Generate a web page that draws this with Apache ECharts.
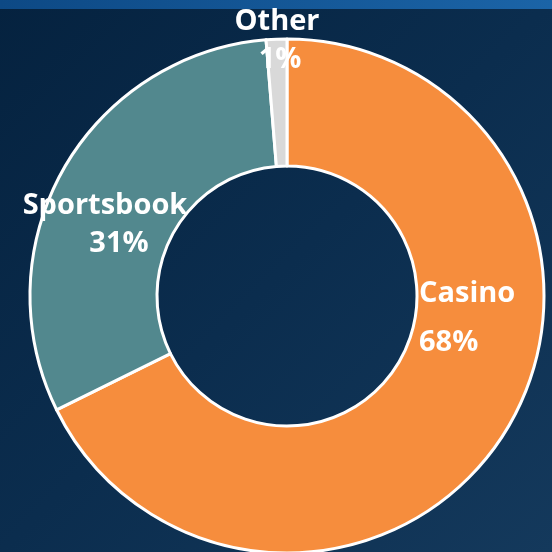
<!DOCTYPE html>
<html><head><meta charset="utf-8">
<script src="https://cdn.jsdelivr.net/npm/echarts@6/dist/echarts.min.js"></script>
<style>html,body{margin:0;padding:0;background:#0a2a4a}#c{width:552px;height:552px}</style>
</head><body><div id="c"></div>
<script>
const categories = ['Casino', 'Sportsbook', 'Other'];
const values = [67.7, 31.0, 1.3];
const colors = ['#F68D3D', '#52888E', '#D9D9D9'];

const labelPos = [
  {x: 419, y: 318, align: 'left', lh: 49, pad: 0},
  {x: 105, y: 225, align: 'center', lh: 38, pad: 28},
  {x: 277, y: 41, align: 'center', lh: 38, pad: 6}
];

const chart = echarts.init(document.getElementById('c'), null, {renderer: 'canvas'});
chart.setOption({
  backgroundColor: {
    type: 'linear', x: 0, y: 0, x2: 1, y2: 1,
    colorStops: [{offset: 0, color: '#05223f'}, {offset: 0.5, color: '#0b2d4e'}, {offset: 1, color: '#14395c'}]
  },
  graphic: [{
    type: 'rect', left: 0, top: 0, z: -1,
    shape: {width: 552, height: 9},
    style: {fill: {type: 'linear', x: 0, y: 0, x2: 1, y2: 0,
      colorStops: [{offset: 0, color: '#0d4985'}, {offset: 1, color: '#1b64a7'}]}}
  }],
  series: [{
    type: 'pie',
    center: [287, 296],
    radius: [130, 257],
    startAngle: 90,
    clockwise: true,
    silent: true,
    itemStyle: {borderColor: '#ffffff', borderWidth: 3},
    label: {
      show: true,
      position: 'inside',
      color: '#ffffff',
      fontFamily: 'Open Sans',
      fontWeight: 'bold',
      fontSize: 30
    },
    labelLine: {show: false},
    labelLayout: function (p) {
      const L = labelPos[p.dataIndex];
      return {x: L.x, y: L.y, align: L.align, verticalAlign: 'middle'};
    },
    data: categories.map((c, i) => {
      const L = labelPos[i];
      return {
        name: c, value: values[i],
        itemStyle: {color: colors[i]},
        label: {
          formatter: '{n|' + c + '}\n{p|' + Math.round(values[i]) + '%}',
          rich: {
            n: {color: '#fff', fontFamily: 'Open Sans', fontWeight: 'bold', fontSize: 29, lineHeight: L.lh, align: L.align},
            p: {color: '#fff', fontFamily: 'Open Sans', fontWeight: 'bold', fontSize: 29, lineHeight: L.lh, align: L.align, padding: [0, 0, 0, L.pad]}
          }
        }
      };
    })
  }]
});
</script></body></html>
